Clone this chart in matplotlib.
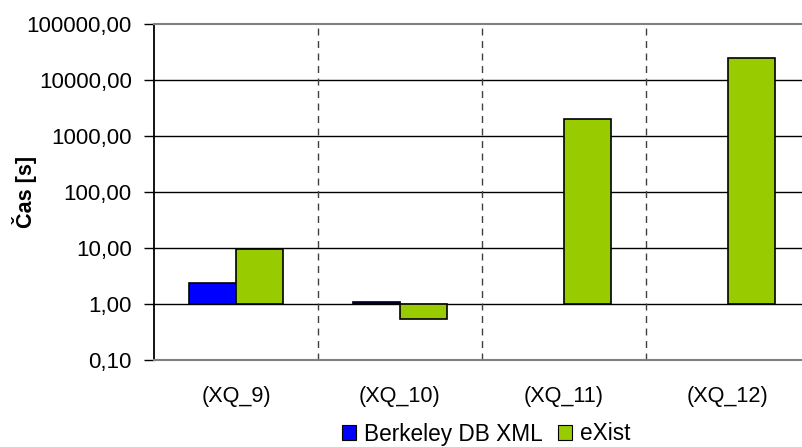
import numpy as np
import matplotlib
matplotlib.use('Agg')
import matplotlib.pyplot as plt
from matplotlib.patches import Patch
from matplotlib.ticker import FixedLocator, FuncFormatter, NullLocator

# query run times in seconds (NaN = no result)
queries = ['(XQ_9)', '(XQ_10)', '(XQ_11)', '(XQ_12)']
berkeley = [2.4, 1.08, np.nan, np.nan]
exist = [9.7, 0.55, 2000.0, 24700.0]
series_names = ['Berkeley DB XML', 'eXist']

plt.rcParams['font.family'] = ['Liberation Sans', 'DejaVu Sans']

fig = plt.figure(figsize=(8.03, 4.47), dpi=100)
ax = fig.add_axes([154 / 803, 1 - 360 / 447, 656 / 803, 336 / 447])

ax.set_yscale('log')
ax.set_ylim(0.1, 100000)
ax.set_xlim(0, len(queries))

centers = np.arange(len(queries)) + 0.5
bw = 0.287
base = 1.0  # bars grow from the 1,00 line like Excel does on log axes

b = np.array(berkeley)
e = np.array(exist)
m = ~np.isnan(b)
ax.bar(centers[m] - bw / 2, b[m] - base, bottom=base, width=bw,
       color='#0000FF', edgecolor='black', linewidth=1.2, zorder=3)
ax.bar(centers + bw / 2, e - base, bottom=base, width=bw,
       color='#99CC00', edgecolor='black', linewidth=1.2, zorder=3)

# gridlines at each decade, dashed category separators
decades = [0.1, 1, 10, 100, 1000, 10000, 100000]
for d in decades[1:-1]:
    ax.axhline(d, color='black', linewidth=1.0, zorder=1)
for i in range(1, len(queries)):
    ax.axvline(i, color='#404040', linewidth=1.0, linestyle=(0, (5, 4)), zorder=1)

ax.yaxis.set_major_locator(FixedLocator(decades))
ax.yaxis.set_minor_locator(NullLocator())
ax.yaxis.set_major_formatter(FuncFormatter(lambda v, p: f'{v:.2f}'.replace('.', ',')))
ax.tick_params(axis='y', direction='out', length=7, width=1.0, color='black',
               labelsize=16, pad=9)

ax.set_xticks(centers)
ax.set_xticklabels(queries)
ax.tick_params(axis='x', length=0, labelsize=15.6, pad=19)

for side in ['top', 'bottom', 'right']:
    ax.spines[side].set_color('#808080')
    ax.spines[side].set_linewidth(1.5)
ax.spines['left'].set_color('black')
ax.spines['left'].set_linewidth(1.3)

ax.set_ylabel('Čas [s]', fontsize=15.5, fontweight='bold')
ax.yaxis.set_label_coords(-117 / 656, 0.5)

handles = [Patch(facecolor='#0000FF', edgecolor='black', linewidth=0.8),
           Patch(facecolor='#99CC00', edgecolor='black', linewidth=0.8)]
fig.legend(handles, series_names, loc='center', bbox_to_anchor=(486 / 803, 1 - 434 / 447),
           ncol=2, frameon=False, fontsize=16.3, handlelength=0.6, handleheight=0.6,
           handletextpad=0.35, columnspacing=0.7, borderaxespad=0)

fig.savefig('out.png', dpi=100)
